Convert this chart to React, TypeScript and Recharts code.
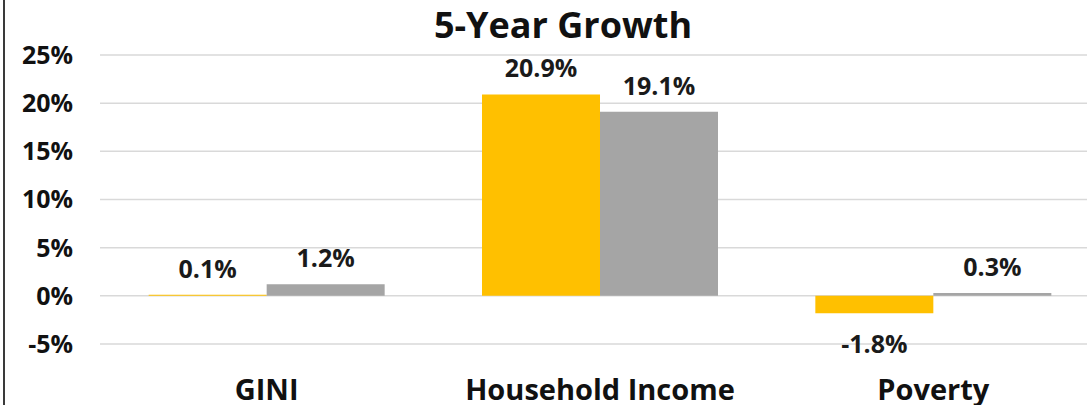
import React from "react";
import { BarChart, Bar, XAxis, YAxis, CartesianGrid, LabelList } from "recharts";

const categories = ["GINI", "Household Income", "Poverty"];
const firstSeries = [0.1, 20.9, -1.8];
const secondSeries = [1.2, 19.1, 0.3];
const yTicks = [-5, 0, 5, 10, 15, 20, 25];

const data = categories.map((name, i) => ({
  name,
  first: firstSeries[i],
  second: secondSeries[i],
}));

const FONT = "'Open Sans', Lato, sans-serif";

// eslint-disable-next-line @typescript-eslint/no-explicit-any
function ValueLabel(props: any) {
  const { x, y, width, height, value } = props;
  const top = Math.min(y, y + height);
  const bottom = Math.max(y, y + height);
  const cx = x + width / 2;
  const negative = Number(value) < 0;
  return (
    <text
      x={cx}
      y={negative ? bottom + 40 : top - 17}
      textAnchor="middle"
      fontFamily={FONT}
      fontWeight={700}
      fontSize={25}
      fill="#1a1a1a"
    >
      {`${Number(value).toFixed(1)}%`}
    </text>
  );
}

export default function App() {
  return (
    <div
      style={{
        position: "absolute",
        left: 0,
        top: 0,
        width: 1087,
        height: 405,
        overflow: "hidden",
        background: "#fff",
      }}
    >
      <div
        style={{
          position: "absolute",
          left: 3,
          top: 0,
          width: 2,
          height: 405,
          background: "#3a3a3a",
        }}
      />
      <div
        style={{
          position: "absolute",
          left: 363,
          width: 400,
          top: 1,
          textAlign: "center",
          fontFamily: FONT,
          fontWeight: 700,
          fontSize: 36,
          lineHeight: "48px",
          color: "#111",
        }}
      >
        5-Year Growth
      </div>
      <div style={{ position: "absolute", left: 0, top: 0 }}>
        <BarChart
          width={1100}
          height={414}
          data={data}
          margin={{ top: 55, right: 0, bottom: 0, left: 0 }}
          barCategoryGap="14.6%"
          barGap={0}
        >
          <CartesianGrid vertical={false} stroke="#d9d9d9" strokeWidth={1.5} />
          <XAxis
            dataKey="name"
            axisLine={false}
            tickLine={false}
            tickSize={0}
            tickMargin={35}
            height={70}
            tick={{ fontFamily: FONT, fontWeight: 700, fontSize: 29, fill: "#111" }}
          />
          <YAxis
            domain={[-5, 25]}
            ticks={yTicks}
            interval={0}
            axisLine={false}
            tickLine={false}
            tickSize={0}
            tickMargin={27}
            width={100}
            tickFormatter={(v: number) => `${v}%`}
            tick={{ fontFamily: FONT, fontWeight: 700, fontSize: 25, fill: "#111" }}
          />
          <Bar dataKey="first" fill="#FFC000" isAnimationActive={false}>
            <LabelList dataKey="first" content={<ValueLabel />} />
          </Bar>
          <Bar dataKey="second" fill="#A5A5A5" isAnimationActive={false}>
            <LabelList dataKey="second" content={<ValueLabel />} />
          </Bar>
        </BarChart>
      </div>
    </div>
  );
}
